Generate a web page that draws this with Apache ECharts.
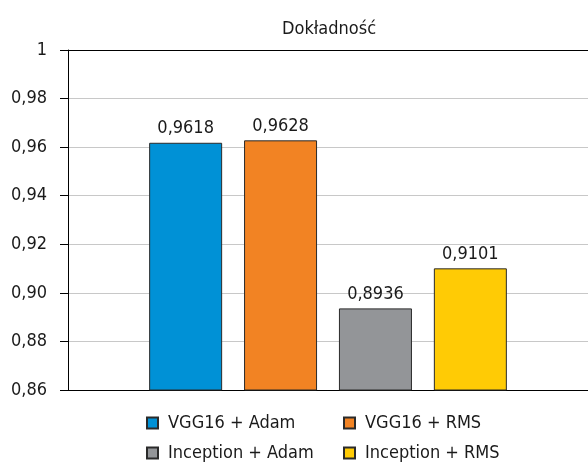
<!DOCTYPE html>
<html>
<head>
<meta charset="utf-8">
<script src="https://cdn.jsdelivr.net/npm/echarts@6/dist/echarts.min.js"></script>
<style>
  html, body { margin: 0; padding: 0; background: #fff; }
  #chart { width: 588px; height: 466px; }
</style>
</head>
<body>
<div id="chart"></div>
<script>
const categories = ["Dokładność"];
const seriesNames = ["VGG16 + Adam", "VGG16 + RMS", "Inception + Adam", "Inception + RMS"];
const seriesValues = [0.9618, 0.9628, 0.8936, 0.9101];
const seriesColors = ["#0091d6", "#f28323", "#939598", "#ffcb05"];
const yTicks = { min: 0.86, max: 1, interval: 0.02 };

const font = "'DejaVu Sans Condensed', 'Liberation Sans Narrow', sans-serif";
const fmt = v => String(v).replace(".", ",");

const legendText = { fontFamily: font, fontSize: 18, color: "#1a1a1a", lineHeight: 20, padding: [0, 0, 0, 5] };

const chart = echarts.init(document.getElementById("chart"));
const option = {
  animation: false,
  textStyle: { fontFamily: font },
  title: {
    text: categories[0],
    left: 277,
    top: 15,
    textStyle: { fontFamily: font, fontSize: 18, fontWeight: "normal", color: "#1a1a1a" },
  },
  grid: { left: 68, right: 0, top: 50, bottom: 76 },
  legend: [
    {
      data: [seriesNames[0], seriesNames[2]],
      orient: "vertical",
      left: 146,
      top: 413,
      padding: 0,
      itemWidth: 11,
      itemHeight: 11,
      itemGap: 10,
      icon: "rect",
      textStyle: legendText,
    },
    {
      data: [seriesNames[1], seriesNames[3]],
      orient: "vertical",
      left: 343,
      top: 413,
      padding: 0,
      itemWidth: 11,
      itemHeight: 11,
      itemGap: 10,
      icon: "rect",
      textStyle: legendText,
    },
  ],
  xAxis: {
    type: "category",
    data: categories,
    axisLine: { lineStyle: { color: "#000", width: 1 } },
    axisTick: { show: false },
    axisLabel: { show: false },
  },
  yAxis: {
    type: "value",
    min: yTicks.min,
    max: yTicks.max,
    interval: yTicks.interval,
    axisLine: { show: true, lineStyle: { color: "#000", width: 1 } },
    axisTick: { show: true, length: 8, lineStyle: { color: "#000" } },
    axisLabel: {
      margin: 21,
      fontSize: 18,
      color: "#1a1a1a",
      fontFamily: font,
      formatter: v => (Math.abs(v - 1) < 1e-9 ? "1" : fmt(v.toFixed(2))),
    },
    splitLine: {
      lineStyle: {
        color: ["#c8c8c8", "#c8c8c8", "#c8c8c8", "#c8c8c8", "#c8c8c8", "#c8c8c8", "#c8c8c8", "#000"],
        width: 1,
      },
    },
  },
  series: seriesNames.map((name, i) => ({
    name: name,
    type: "bar",
    data: [seriesValues[i]],
    barWidth: 73,
    barGap: "30%",
    itemStyle: { color: seriesColors[i], borderColor: "#2a2a2a", borderWidth: 1 },
    label: {
      show: true,
      position: "top",
      distance: 5,
      fontSize: 18,
      color: "#1a1a1a",
      fontFamily: font,
      formatter: p => fmt(p.value),
    },
  })),
};
chart.setOption(option);
</script>
</body>
</html>
